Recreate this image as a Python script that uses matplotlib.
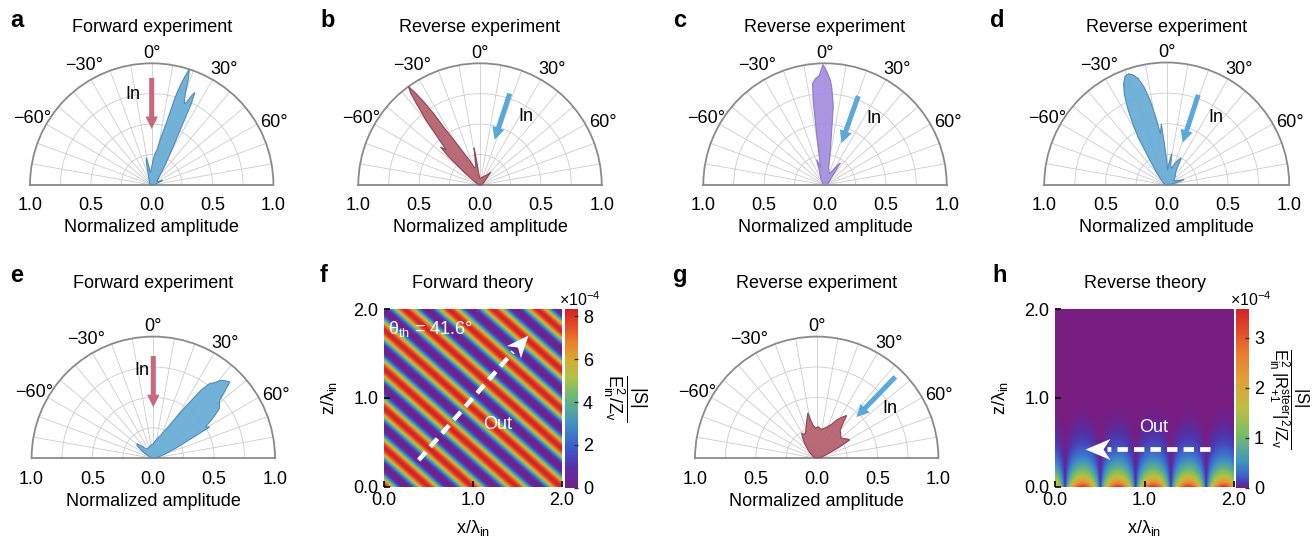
import numpy as np
import matplotlib
matplotlib.use("Agg")
import matplotlib.pyplot as plt
from matplotlib.colors import LinearSegmentedColormap
from matplotlib.path import Path
from matplotlib.markers import MarkerStyle
from matplotlib.transforms import Affine2D

plt.rcParams["font.family"] = ["Liberation Sans", "DejaVu Sans"]
plt.rcParams["mathtext.fontset"] = "custom"
plt.rcParams["mathtext.rm"] = "Liberation Sans"
plt.rcParams["mathtext.it"] = "Liberation Sans"
plt.rcParams["mathtext.default"] = "regular"

# %%
## far-field lobes (angle in deg, normalized amplitude)
ang_a = [-90, -60, -40, -25, -16, -13, -11, -9, -6, -3, 0, 3, 6, 9, 11, 13, 14, 15, 16, 17, 18, 19, 20,
         21, 22, 23, 24, 25, 26, 27, 29, 31, 34, 38, 45, 55, 63, 67, 71, 80, 90]
amp_a = [0, 0.02, 0.03, 0.05, 0.12, 0.2, 0.23, 0.16, 0.1, 0.12, 0.15, 0.2, 0.26, 0.3, 0.4, 0.5, 0.6, 0.75,
         0.85, 0.93, 1.0, 0.93, 0.82, 0.75, 0.72, 0.74, 0.8, 0.84, 0.74, 0.55, 0.38, 0.28, 0.2, 0.13, 0.08,
         0.05, 0.06, 0.1, 0.05, 0.02, 0]

ang_b = [-90, -70, -58, -52, -48, -46, -44, -42, -40, -38, -37, -36, -35, -34, -33, -32, -30, -27, -23,
         -18, -13, -10, -9, -8, -5, 0, 10, 25, 35, 40, 44, 55, 70, 90]
amp_b = [0, 0.02, 0.05, 0.15, 0.35, 0.45, 0.4, 0.5, 0.68, 0.85, 0.95, 1.0, 0.92, 0.82, 0.7, 0.55, 0.42,
         0.3, 0.22, 0.15, 0.15, 0.25, 0.31, 0.2, 0.08, 0.05, 0.06, 0.08, 0.1, 0.14, 0.08, 0.04, 0.02, 0]

ang_c = [-90, -60, -40, -30, -22, -18, -14, -10, -8, -7, -5, -3, -1, 1, 3, 4, 5, 6, 7, 9, 12, 16, 22, 28,
         33, 35, 38, 45, 55, 70, 90]
amp_c = [0, 0.02, 0.04, 0.07, 0.12, 0.22, 0.15, 0.35, 0.7, 0.84, 0.88, 0.9, 0.99, 0.93, 0.86, 0.8, 0.72,
         0.65, 0.45, 0.28, 0.15, 0.12, 0.1, 0.14, 0.2, 0.22, 0.12, 0.06, 0.04, 0.02, 0]

ang_d = [-90, -65, -50, -40, -34, -31, -29, -27, -25, -23, -21, -19, -17, -15, -13, -11, -9, -7, -5, -3,
         0, 3, 6, 9, 12, 16, 20, 24, 28, 31, 36, 45, 55, 65, 73, 76, 80, 90]
amp_d = [0, 0.02, 0.05, 0.12, 0.25, 0.45, 0.57, 0.7, 0.82, 0.9, 0.95, 0.96, 0.94, 0.9, 0.82, 0.7, 0.55,
         0.42, 0.5, 0.32, 0.2, 0.12, 0.18, 0.26, 0.16, 0.14, 0.18, 0.22, 0.25, 0.18, 0.12, 0.1, 0.07, 0.08,
         0.15, 0.1, 0.04, 0]

ang_e = [-90, -70, -58, -52, -48, -44, -38, -30, -20, -10, 0, 8, 14, 18, 22, 26, 30, 33, 35, 37, 39, 41,
         43, 45, 47, 49, 51, 53, 55, 57, 59, 61, 63, 66, 70, 78, 90]
amp_e = [0, 0.03, 0.1, 0.17, 0.18, 0.14, 0.1, 0.09, 0.1, 0.11, 0.12, 0.15, 0.18, 0.2, 0.24, 0.3, 0.42,
         0.55, 0.68, 0.77, 0.8, 0.85, 0.87, 0.89, 0.8, 0.72, 0.7, 0.68, 0.62, 0.56, 0.5, 0.53, 0.32, 0.2,
         0.1, 0.04, 0]

ang_g = [-90, -65, -50, -40, -35, -31, -27, -22, -18, -14, -11, -9, -6, -2, 3, 8, 13, 18, 23, 28, 32, 35,
         37, 40, 45, 50, 55, 58, 61, 64, 70, 80, 90]
amp_g = [0, 0.03, 0.08, 0.15, 0.2, 0.24, 0.22, 0.24, 0.28, 0.33, 0.38, 0.32, 0.27, 0.25, 0.26, 0.24, 0.25,
         0.27, 0.3, 0.36, 0.4, 0.43, 0.36, 0.3, 0.28, 0.26, 0.28, 0.3, 0.31, 0.2, 0.08, 0.03, 0]

## angle labels round the half disc: (label, angle deg, radius)
theta_labels = [("0°", 0, 1.08), ("30°", 32, 1.115), ("60°", 63, 1.13),
                ("\u221230°", -29.5, 1.125), ("\u221260°", -61, 1.12)]

## theory maps
theta_th = 41.6        # deg
stripe_period = 0.33   # lambda_in
f_peak = 8.3e-4
lobe_period = 0.395
lobe_null = 0.11
h_peak = 3.4e-4
decay = 0.16

# %%
W, H = 1312, 541
BLUE, BLUE_E = "#6aaed6", "#4f86b4"
RED, RED_E = "#b5636f", "#8c3f50"
PURPLE, PURPLE_E = "#a690e0", "#8a76c8"
PINK_ARROW, BLUE_ARROW = "#c8687c", "#58a8dc"

fig = plt.figure(figsize=(W / 100, H / 100), dpi=100)


def fx(x):
    return x / W


def fy(y):
    return 1 - y / H


def polar_panel(cx, cy, R, ang, amp, face, edge, title, title_y, letter, letter_x, letter_y,
                arrow, arrow_color, in_pos):
    # square box: the half disc is centred in it vertically
    ax = fig.add_axes([fx(cx - R), fy(cy + 0.5 * R), 2 * R / W, 2 * R / H], projection="polar")
    ax.set_theta_zero_location("N")
    ax.set_theta_direction(-1)
    ax.set_thetamin(-90)
    ax.set_thetamax(90)
    ax.set_ylim(0, 1)
    grid_angles = np.arange(-80, 81, 10)
    ax.set_thetagrids(grid_angles, [""] * len(grid_angles))
    ax.set_rgrids([0.25, 0.5, 0.75], labels=["", "", ""])
    ax.grid(color="#cccccc", lw=0.6)
    for s in ax.spines.values():
        s.set_color("#8a8a8a")
        s.set_linewidth(1.3)
    for lab, th, r in theta_labels:
        ax.text(np.deg2rad(th), r, lab, fontsize=13, ha="center", va="center", clip_on=False)

    ax.fill(np.deg2rad(ang), amp, facecolor=face, edgecolor=edge, lw=0.8, alpha=0.95, zorder=3)

    (t_th, t_r), (h_th, h_r) = arrow
    ax.annotate("", xy=(np.deg2rad(h_th), h_r), xytext=(np.deg2rad(t_th), t_r),
                arrowprops=dict(facecolor=arrow_color, edgecolor="none", width=3.6,
                                headwidth=9, headlength=9, shrink=0), zorder=4)
    ax.text(np.deg2rad(in_pos[0]), in_pos[1], "In", fontsize=13, ha="center", va="center", zorder=5)

    for th, r in [(-90, 1.0), (-90, 0.5), (0, 0.0), (90, 0.5), (90, 1.0)]:
        ax.annotate(f"{r:.1f}", xy=(np.deg2rad(th), r), xytext=(0, -9), textcoords="offset points",
                    ha="center", va="top", fontsize=13, annotation_clip=False)

    fig.text(fx(cx), fy(cy + 43), "Normalized amplitude", ha="center", va="center", fontsize=13)
    fig.text(fx(cx), fy(title_y), title, ha="center", va="center", fontsize=13)
    fig.text(fx(letter_x), fy(letter_y), letter, ha="left", va="baseline", fontsize=17, weight="bold")
    return ax


polar_panel(151.7, 185, 121.7, ang_a, amp_a, BLUE, BLUE_E, "Forward experiment", 28, "a", 10, 27,
            [(0, 0.88), (0, 0.46)], PINK_ARROW, (-11.5, 0.76))
polar_panel(480, 185, 121.7, ang_b, amp_b, RED, RED_E, "Reverse experiment", 28, "b", 320, 27,
            [(18, 0.79), (17.8, 0.39)], BLUE_ARROW, (34, 0.68))
polar_panel(825, 185, 121.7, ang_c, amp_c, PURPLE, PURPLE_E, "Reverse experiment", 28, "c", 673, 27,
            [(20.5, 0.78), (21.5, 0.37)], BLUE_ARROW, (36, 0.68))
polar_panel(1166.7, 185, 122.5, ang_d, amp_d, BLUE, BLUE_E, "Reverse experiment", 28, "d", 990, 27,
            [(19.3, 0.78), (20.7, 0.37)], BLUE_ARROW, (36, 0.68))
polar_panel(153.3, 458.3, 121.7, ang_e, amp_e, BLUE, BLUE_E, "Forward experiment", 284, "e", 10, 282,
            [(0, 0.84), (0, 0.42)], PINK_ARROW, (-7.5, 0.73))
polar_panel(816.7, 458.3, 121.7, ang_g, amp_g, RED, RED_E, "Reverse experiment", 284, "g", 673, 282,
            [(44, 0.93), (44, 0.47)], BLUE_ARROW, (55.7, 0.73))

# %%
## theory maps
cmap_f = LinearSegmentedColormap.from_list("f", [
    (0.0, (115/255, 32/255, 135/255)), (0.12, (88/255, 50/255, 170/255)),
    (0.22, (60/255, 90/255, 205/255)), (0.36, (65/255, 145/255, 195/255)),
    (0.5, (100/255, 185/255, 125/255)), (0.62, (175/255, 195/255, 70/255)),
    (0.72, (215/255, 170/255, 50/255)), (0.82, (235/255, 125/255, 45/255)),
    (0.92, (225/255, 70/255, 40/255)), (1.0, (210/255, 35/255, 40/255))])
cmap_h = LinearSegmentedColormap.from_list("h", [
    (0.0, (120/255, 30/255, 130/255)), (0.02, (80/255, 50/255, 170/255)),
    (0.07, (60/255, 100/255, 205/255)), (0.15, (65/255, 150/255, 190/255)),
    (0.3, (120/255, 190/255, 100/255)), (0.45, (190/255, 190/255, 65/255)),
    (0.6, (225/255, 160/255, 55/255)), (0.75, (232/255, 125/255, 48/255)),
    (0.88, (225/255, 75/255, 42/255)), (1.0, (210/255, 35/255, 40/255))])

xs = np.linspace(0, 2, 500)
X, Z = np.meshgrid(xs, xs)
t = np.deg2rad(theta_th)
S_f = f_peak * np.cos(np.pi * (X * np.sin(t) + Z * np.cos(t)) / stripe_period) ** 2
S_h = h_peak * np.abs(np.sin(np.pi * (X - lobe_null) / lobe_period)) * np.exp(-Z / decay)


def head_marker(angle):
    verts = [(0, 0), (-1, 0.42), (-0.72, 0), (-1, -0.42), (0, 0)]
    path = Path(verts, [Path.MOVETO, Path.LINETO, Path.LINETO, Path.LINETO, Path.CLOSEPOLY])
    return MarkerStyle(path, transform=Affine2D().rotate_deg(angle))


def map_panel(x0, x1, y0, y1, data, cmap, vmax, ticks, cbar_x, label, label_x, label_size,
              title, letter, letter_x):
    ax = fig.add_axes([fx(x0), fy(y1), (x1 - x0) / W, (y1 - y0) / H])
    im = ax.imshow(data, extent=[0, 2, 0, 2], origin="lower", cmap=cmap, vmin=0, vmax=vmax,
                   aspect="auto", interpolation="bilinear")
    for s in ax.spines.values():
        s.set_visible(False)
    ax.set_xticks([0, 1, 2], ["0.0", "1.0", "2.0"])
    ax.set_yticks([0, 1, 2], ["0.0", "1.0", "2.0"])
    ax.tick_params(direction="in", length=4, width=1.2, labelsize=13, pad=4)
    ax.set_xlabel(r"x/λ$_{in}$", fontsize=13, labelpad=6)
    ax.set_ylabel(r"z/λ$_{in}$", fontsize=13, labelpad=10)
    cax = fig.add_axes([fx(cbar_x), fy(y1 + 1), 12.5 / W, (y1 - y0 + 1) / H])
    cb = fig.colorbar(im, cax=cax, ticks=[v * 1e-4 for v in ticks])
    cb.set_ticklabels([str(v) for v in ticks])
    cb.outline.set_visible(False)
    cb.ax.tick_params(direction="in", length=3, width=1, color="#333333", labelsize=13, pad=4)
    fig.text(fx(cbar_x + 15), fy(y0 - 10), r"×10$^{-4}$", ha="center", va="center", fontsize=11.5)
    fig.text(fx(label_x), fy((y0 + y1) / 2), label, rotation=270, ha="center", va="center",
             fontsize=label_size)
    fig.text(fx((x0 + x1) / 2), fy(284), title, ha="center", va="center", fontsize=13)
    fig.text(fx(letter_x), fy(282), letter, ha="left", va="baseline", fontsize=17, weight="bold")
    return ax


ax_f = map_panel(384, 562, 309.3, 486.7, S_f, cmap_f, 8.33e-4, [0, 2, 4, 6, 8], 565,
                 r"$\dfrac{|S|}{E_{in}^{2}/Z_{v}}$", 625, 13, "Forward theory", "f", 320)
ax_f.plot([0.39, 1.45], [0.30, 1.52], ls=(0, (2.4, 1.6)), color="white", lw=3.2, solid_capstyle="butt")
ax_f.plot([1.62], [1.71], marker=head_marker(np.degrees(np.arctan2(1.41, 1.23))), ms=32,
          color="white", mec="none", ls="none")
ax_f.text(0.05, 1.78, r"θ$_{th}$ = 41.6°", color="white", fontsize=13, ha="left", va="center")
ax_f.text(1.28, 0.7, "Out", color="white", fontsize=13, ha="center", va="center")

ax_h = map_panel(1055, 1234, 309.3, 486.7, S_h, cmap_h, 3.57e-4, [0, 1, 2, 3], 1236,
                 r"$\dfrac{|S|}{E_{in}^{2}\,|R_{+1}^{steer}|^{2}/Z_{v}}$", 1289, 12,
                 "Reverse theory", "h", 992)
ax_h.plot([1.73, 0.58], [0.43, 0.43], ls=(0, (2.2, 1.3)), color="white", lw=3.4, solid_capstyle="butt")
ax_h.plot([0.335], [0.43], marker=head_marker(180), ms=36, color="white", mec="none", ls="none")
ax_h.text(1.1, 0.67, "Out", color="white", fontsize=13, ha="center", va="center")

fig.savefig("out.png", dpi=100)
